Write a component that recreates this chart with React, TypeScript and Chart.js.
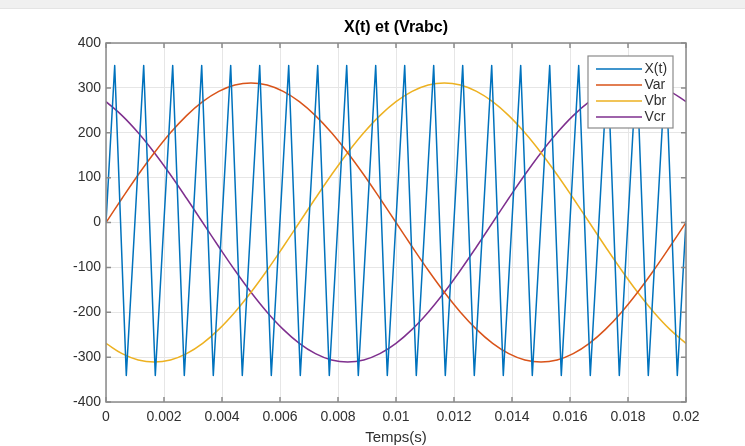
import React, { useEffect, useRef } from "react";
import { Chart, registerables } from "chart.js";

Chart.register(...registerables);

const TITLE = "X(t) et (Vrabc)";
const X_LABEL = "Temps(s)";

const xTickValues = [0, 0.002, 0.004, 0.006, 0.008, 0.01, 0.012, 0.014, 0.016, 0.018, 0.02];
const yTickValues = [-400, -300, -200, -100, 0, 100, 200, 300, 400];

const seriesLabels = ["X(t)", "Var", "Vbr", "Vcr"];
const seriesColors = ["#0072BD", "#D95319", "#EDB120", "#7E2F8E"];

// Triangular carrier X(t): vertices
const carrierTimes = [
  0, 0.0003, 0.0007, 0.0013, 0.0017, 0.0023, 0.0027, 0.0033, 0.0037, 0.0043, 0.0047,
  0.0053, 0.0057, 0.0063, 0.0067, 0.0073, 0.0077, 0.0083, 0.0087, 0.0093, 0.0097,
  0.0103, 0.0107, 0.0113, 0.0117, 0.0123, 0.0127, 0.0133, 0.0137, 0.0143, 0.0147,
  0.0153, 0.0157, 0.0163, 0.0167, 0.0173, 0.0177, 0.0183, 0.0187, 0.0193, 0.0197, 0.02,
];
const carrierValues = [
  0, 350, -341, 350, -341, 350, -341, 350, -341, 350, -341,
  350, -341, 350, -341, 350, -341, 350, -341, 350, -341,
  350, -341, 350, -341, 350, -341, 350, -341, 350, -341,
  350, -341, 350, -341, 350, -341, 350, -341, 350, -341, 4,
];

// Three-phase references, sampled points
const sineTimes = [
  0, 0.000556, 0.001111, 0.001667, 0.002222, 0.002778, 0.003333, 0.003889, 0.004444, 0.005,
  0.005556, 0.006111, 0.006667, 0.007222, 0.007778, 0.008333, 0.008889, 0.009444, 0.01,
  0.010556, 0.011111, 0.011667, 0.012222, 0.012778, 0.013333, 0.013889, 0.014444, 0.015,
  0.015556, 0.016111, 0.016667, 0.017222, 0.017778, 0.018333, 0.018889, 0.019444, 0.02,
];
const varValues = [
  0, 54.0, 106.4, 155.5, 199.9, 238.2, 269.3, 292.2, 306.3, 311,
  306.3, 292.2, 269.3, 238.2, 199.9, 155.5, 106.4, 54.0, 0,
  -54.0, -106.4, -155.5, -199.9, -238.2, -269.3, -292.2, -306.3, -311,
  -306.3, -292.2, -269.3, -238.2, -199.9, -155.5, -106.4, -54.0, 0,
];
const vbrValues = [
  -269.3, -292.2, -306.3, -311, -306.3, -292.2, -269.3, -238.2, -199.9, -155.5,
  -106.4, -54.0, 0, 54.0, 106.4, 155.5, 199.9, 238.2, 269.3,
  292.2, 306.3, 311, 306.3, 292.2, 269.3, 238.2, 199.9, 155.5,
  106.4, 54.0, 0, -54.0, -106.4, -155.5, -199.9, -238.2, -269.3,
];
const vcrValues = [
  269.3, 238.2, 199.9, 155.5, 106.4, 54.0, 0, -54.0, -106.4, -155.5,
  -199.9, -238.2, -269.3, -292.2, -306.3, -311, -306.3, -292.2, -269.3,
  -238.2, -199.9, -155.5, -106.4, -54.0, 0, 54.0, 106.4, 155.5,
  199.9, 238.2, 269.3, 292.2, 306.3, 311, 306.3, 292.2, 269.3,
];

const FONT = "'Liberation Sans', Arial, Helvetica, sans-serif";
const TEXT_COLOR = "#303030";
const AXIS_COLOR = "#8a8a8a";

const framePlugin = {
  id: "matlabFrame",
  afterDatasetsDraw(chart: any) {
    const { ctx, chartArea: a, scales } = chart;
    const xs = scales.x;
    const ys = scales.y;
    ctx.save();
    // box
    ctx.strokeStyle = AXIS_COLOR;
    ctx.lineWidth = 1.5;
    ctx.strokeRect(a.left, a.top, a.right - a.left, a.bottom - a.top);
    // inward ticks on all sides
    const tl = 5;
    ctx.beginPath();
    xTickValues.forEach((v) => {
      const px = xs.getPixelForValue(v);
      ctx.moveTo(px, a.bottom);
      ctx.lineTo(px, a.bottom - tl);
      ctx.moveTo(px, a.top);
      ctx.lineTo(px, a.top + tl);
    });
    yTickValues.forEach((v) => {
      const py = ys.getPixelForValue(v);
      ctx.moveTo(a.left, py);
      ctx.lineTo(a.left + tl, py);
      ctx.moveTo(a.right, py);
      ctx.lineTo(a.right - tl, py);
    });
    ctx.stroke();

    // legend
    const lw = 85;
    const lh = 72;
    const lx = a.right - 98;
    const ly = a.top + 13;
    ctx.fillStyle = "#ffffff";
    ctx.fillRect(lx, ly, lw, lh);
    ctx.strokeStyle = AXIS_COLOR;
    ctx.lineWidth = 1.2;
    ctx.strokeRect(lx, ly, lw, lh);
    ctx.font = `14px ${FONT}`;
    ctx.textBaseline = "middle";
    ctx.textAlign = "left";
    chart.data.datasets.forEach((ds: any, i: number) => {
      const y = ly + 13 + i * 16;
      ctx.strokeStyle = ds.borderColor;
      ctx.lineWidth = 1.5;
      ctx.beginPath();
      ctx.moveTo(lx + 8, y);
      ctx.lineTo(lx + 54, y);
      ctx.stroke();
      ctx.fillStyle = TEXT_COLOR;
      ctx.fillText(ds.label, lx + 56.5, y + 0.5);
    });

    // title
    ctx.fillStyle = "#000000";
    ctx.font = `bold 16px ${FONT}`;
    ctx.textAlign = "center";
    ctx.textBaseline = "middle";
    ctx.fillText(TITLE, (a.left + a.right) / 2, 28);

    // x label
    ctx.fillStyle = TEXT_COLOR;
    ctx.font = `15px ${FONT}`;
    ctx.fillText(X_LABEL, (a.left + a.right) / 2, a.bottom + 36);
    ctx.restore();
  },
};

export default function App() {
  const canvasRef = useRef<HTMLCanvasElement | null>(null);

  useEffect(() => {
    if (!canvasRef.current) return;
    const makePoints = (xs: number[], ys: number[]) => xs.map((x, i) => ({ x, y: ys[i] }));
    const seriesData = [
      makePoints(carrierTimes, carrierValues),
      makePoints(sineTimes, varValues),
      makePoints(sineTimes, vbrValues),
      makePoints(sineTimes, vcrValues),
    ];
    const chart = new Chart(canvasRef.current, {
      type: "line",
      data: {
        datasets: seriesData.map((d, i) => ({
          label: seriesLabels[i],
          data: d,
          borderColor: seriesColors[i],
          backgroundColor: seriesColors[i],
          borderWidth: 1.5,
          pointRadius: 0,
          tension: i === 0 ? 0 : 0.4,
          borderJoinStyle: "round" as const,
          fill: false,
        })),
      },
      options: {
        responsive: false,
        animation: false,
        events: [],
        layout: { padding: { left: 0, right: 59, top: 43, bottom: 0 } },
        plugins: {
          legend: { display: false },
          title: { display: false },
          tooltip: { enabled: false },
        },
        scales: {
          x: {
            type: "linear",
            min: 0,
            max: 0.02,
            afterBuildTicks: (scale: any) => {
              scale.ticks = xTickValues.map((v) => ({ value: v }));
            },
            afterFit: (scale: any) => {
              scale.height = 44;
            },
            grid: { color: "#e6e6e6", lineWidth: 1, drawTicks: false },
            border: { display: false },
            ticks: {
              padding: 7,
              color: TEXT_COLOR,
              font: { family: FONT, size: 14 },
              maxRotation: 0,
              autoSkip: false,
              callback: (v: any) => String(parseFloat(Number(v).toFixed(4))),
            },
          },
          y: {
            type: "linear",
            min: -400,
            max: 400,
            afterBuildTicks: (scale: any) => {
              scale.ticks = yTickValues.map((v) => ({ value: v }));
            },
            afterFit: (scale: any) => {
              scale.width = 106;
            },
            grid: { color: "#e6e6e6", lineWidth: 1, drawTicks: false },
            border: { display: false },
            ticks: {
              padding: 5,
              color: TEXT_COLOR,
              font: { family: FONT, size: 14 },
              autoSkip: false,
              callback: (v: any) => String(v),
            },
          },
        },
      },
      plugins: [framePlugin],
    });
    return () => chart.destroy();
  }, []);

  return (
    <div
      style={{
        position: "fixed",
        left: 0,
        top: 0,
        width: 745,
        height: 446,
        background: "#ffffff",
        overflow: "hidden",
      }}
    >
      <div
        style={{
          position: "absolute",
          left: 0,
          top: 0,
          width: 745,
          height: 8,
          background: "#f0f0f0",
          borderBottom: "1px solid #e4e4e4",
        }}
      />
      <canvas
        ref={canvasRef}
        width={745}
        height={446}
        style={{ position: "absolute", left: 0, top: 0, width: 745, height: 446 }}
      />
    </div>
  );
}
